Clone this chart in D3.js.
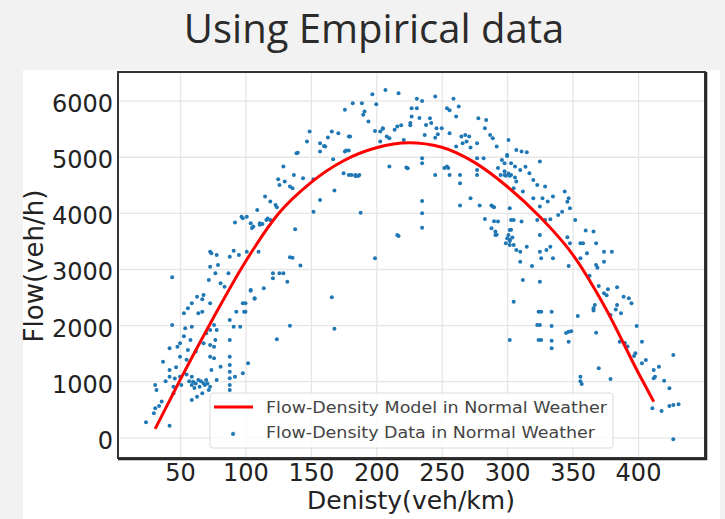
<!DOCTYPE html>
<html lang="en">

<head>
    <meta charset="UTF-8">
    <script src="https://d3js.org/d3.v7.min.js"></script>
    <style>
        body {
            margin: 0;
            background: #f2f2f2;
        }
    </style>
    <title>Using Empirical data</title>
</head>

<body>
    <div class="canvas"></div>
    <script>
        // model curve
        const modelDensity = [31, 50, 75, 100, 125, 150, 175, 200, 225, 250, 275, 300, 325, 350, 375, 400, 412]
        const modelFlow = [150, 1020, 2110, 3130, 3980, 4540, 4930, 5160, 5250, 5170, 4900, 4470, 3930, 3260, 2310, 1160, 635]

        // empirical points [density, flow]
        const empirical = [
            [44, 2853], [24, 267], [30, 428], [31, 517], [42, 207], [32, 843], [31, 932], [37, 1348], [42, 1200], [42, 1080],
            [45, 902], [45, 785], [50, 1080], [51, 932], [42, 1587], [48, 1615], [50, 1676], [50, 1437], [44, 2002], [53, 2211],
            [54, 1943], [56, 2300], [59, 2389], [63, 2507], [67, 2461], [68, 2537], [64, 2211], [67, 2239], [58, 1735], [56, 1557],
            [59, 1972], [59, 1080], [59, 932], [60, 991], [64, 1022], [65, 902], [68, 963], [70, 1022], [73, 902], [72, 843],
            [67, 785], [63, 724], [59, 665], [68, 1676], [70, 1854], [73, 1913], [76, 2002], [78, 1913], [77, 1735], [73, 1646],
            [76, 1615], [73, 1437], [76, 1408], [81, 1259], [74, 1200], [78, 1022], [73, 2389], [72, 2805], [73, 3042], [77, 2924],
            [79, 3072], [81, 2746], [84, 2685], [78, 3250], [73, 3309], [88, 3220], [95, 3250], [87, 2924], [100, 2389], [100, 2239],
            [93, 2239], [88, 2091], [91, 1972], [96, 1972], [88, 1735], [88, 1437], [88, 1289], [88, 1170], [88, 1052], [88, 932],
            [88, 843], [92, 1080], [98, 1141], [102, 1319], [104, 2626], [107, 2478], [91, 71],
            [62, 960], [66, 1000], [69, 930], [71, 960], [61, 880], [57, 1000], [55, 1120], [47, 1250], [46, 1050], [39, 1000],
            [36, 640], [34, 560], [53, 1800], [62, 1530], [55, 1380],
            [147, 5271], [157, 5242], [161, 5181], [157, 5092], [139, 5064], [140, 5070], [176, 5092], [167, 4957], [129, 4825], [137, 4677],
            [144, 4618], [152, 4600], [125, 4600], [130, 4558], [126, 4499], [134, 4468], [136, 4440], [175, 4707], [179, 4677], [181, 4677],
            [210, 4825], [168, 4397], [157, 4231], [115, 4290], [119, 4201], [123, 4142], [124, 4100], [109, 4053], [101, 3933], [98, 3905],
            [104, 3816], [106, 3755], [105, 3730], [111, 3816], [116, 3874], [119, 3874], [152, 4022], [188, 4004], [138, 3709], [216, 3607],
            [101, 3309], [110, 3309], [134, 3209], [136, 3200], [142, 3060], [121, 2924], [126, 2924], [129, 2924], [121, 2835], [132, 2774],
            [114, 2657], [104, 2614], [107, 2470], [98, 2389], [99, 2239], [166, 2496], [199, 3192], [134, 1990], [168, 1936], [124, 1747],
            [149, 5449], [166, 5449], [171, 5420], [163, 5342], [160, 5194], [179, 5360], [177, 5110], [179, 5110], [184, 4659], [186, 4659],
            [203, 5449], [205, 5500], [223, 4807], [176, 5836], [92, 3827], [97, 3933], [111, 3790], [113, 3800], [117, 3900], [74, 3281],
            [91, 3327],
            [207, 6192], [217, 6133], [197, 6116], [245, 6073], [231, 6032], [235, 5996], [259, 6032], [263, 5895], [182, 5955], [189, 5955],
            [200, 5937], [191, 5805], [190, 5750], [227, 5866], [231, 5866], [254, 5866], [256, 5830], [227, 5716], [226, 5604], [226, 5560],
            [233, 5690], [261, 5716], [194, 5627], [241, 5688], [242, 5600], [238, 5568], [216, 5538], [219, 5560], [214, 5480], [205, 5509],
            [199, 5461], [246, 5509], [250, 5509], [256, 5420], [247, 5402], [237, 5390], [245, 5340], [208, 5360], [210, 5331], [221, 5301],
            [203, 5271], [180, 5360], [278, 5688], [284, 5657], [283, 5509], [287, 5390], [289, 5331], [268, 5390], [265, 5360], [271, 5360],
            [269, 5271], [266, 5240], [261, 5181], [272, 5164], [277, 5242], [292, 5181], [301, 5301], [307, 5122], [300, 5033], [296, 4944],
            [298, 4885], [303, 4885], [306, 4825], [298, 4677], [303, 4677], [307, 4558], [282, 4975], [277, 4766], [277, 4677], [277, 4975],
            [235, 4975], [235, 4885], [224, 4796], [245, 4677], [254, 4825], [255, 4800], [252, 4800], [256, 4677], [264, 4677], [264, 4529],
            [184, 4677], [187, 4677], [272, 4261], [264, 4130], [279, 4130], [288, 4130], [290, 4100], [302, 4083], [283, 3892], [290, 3850],
            [293, 3845], [305, 3874], [291, 3666], [292, 3610], [301, 3607], [302, 3520], [304, 3560], [303, 3700], [235, 4213], [235, 3994],
            [235, 3737], [217, 3589], [305, 3429], [307, 3340],
            [311, 5092], [315, 5080], [300, 5015], [325, 4914], [293, 4800], [298, 4740], [301, 4700], [310, 4766], [314, 4820], [317, 4707],
            [320, 4588], [323, 4499], [295, 4677], [299, 4660], [302, 4660], [306, 4630], [329, 4468], [305, 4440], [312, 4379], [320, 4261],
            [327, 4261], [331, 4201], [335, 4290], [344, 4379], [347, 4261], [346, 4200], [348, 4083], [342, 4022], [339, 3960], [333, 3887],
            [329, 3874], [323, 3874], [352, 3874], [325, 4112], [289, 4112], [303, 3874], [311, 3845], [288, 3726], [291, 3607], [302, 3696],
            [300, 3550], [302, 3500], [299, 3460], [302, 3429], [325, 3607], [315, 3398], [310, 3309], [333, 3398], [325, 3309], [330, 3340],
            [326, 3192], [335, 3192], [310, 3131], [319, 3054], [346, 3566], [348, 3459], [356, 3459], [358, 3459], [360, 3684], [366, 3666],
            [368, 3459], [361, 3281], [374, 3309], [380, 3309], [356, 3192], [368, 3072], [369, 3020], [374, 3131], [347, 3054], [363, 2881],
            [370, 2698], [374, 2568], [376, 2530], [377, 2639], [384, 2675], [389, 2507], [393, 2480], [395, 2389], [384, 2359], [367, 2359],
            [387, 2211], [379, 2181], [366, 2260], [312, 2805], [325, 2774], [305, 2418], [324, 2239], [326, 2239], [334, 2239], [354, 2163],
            [323, 2002], [325, 2002], [334, 1984], [399, 1984],
            [324, 1735], [326, 1735], [334, 1722], [334, 1587], [302, 1735], [345, 1860], [347, 1880], [349, 1890], [347, 1705], [368, 1865],
            [366, 2300], [383, 2280], [403, 1705], [386, 1705], [398, 1498], [397, 1450], [406, 1378], [403, 1320], [427, 1467], [416, 1259],
            [412, 1200], [412, 1052], [413, 1080], [420, 1009], [424, 874], [411, 517], [418, 469], [424, 560], [427, 576], [431, 590],
            [427, -36], [356, 1080], [356, 1000], [357, 950], [370, 1230], [379, 1039], [392, 1620], [390, 1680]
        ]

        const xTicks = [50, 100, 150, 200, 250, 300, 350, 400]
        const yTicks = [0, 1000, 2000, 3000, 4000, 5000, 6000]
        const legendLabels = ['Flow-Density Model in Normal Weather', 'Flow-Density Data in Normal Weather']

        const areaWidth = 725
        const areaHeight = 519
        const svg = d3.select('.canvas')
            .append('svg')
            .attr('width', areaWidth)
            .attr('height', areaHeight)
            .style('display', 'block')

        // white picture panel
        svg.append('rect')
            .attr('x', 23).attr('y', 70)
            .attr('width', 697).attr('height', 449)
            .attr('fill', '#fff')

        svg.append('text')
            .attr('x', 374).attr('y', 43)
            .attr('text-anchor', 'middle')
            .attr('fill', '#2b2b2b')
            .style('font-family', 'Open Sans, Noto Sans, sans-serif')
            .style('font-size', '40px')
            .text('Using Empirical data')

        const [pl, pr, pt, pb] = [118, 705, 72, 458]
        const x = d3.scaleLinear().domain([2.6, 451.2]).range([pl, pr])
        const y = d3.scaleLinear().domain([-369, 6511]).range([pb, pt])

        const font = 'DejaVu Sans, sans-serif'

        // grid
        svg.append('g')
            .attr('transform', `translate(0,${pb})`)
            .call(d3.axisBottom(x).tickValues(xTicks).tickSize(-(pb - pt)).tickFormat(''))
            .call(g => g.select('.domain').remove())
            .selectAll('line').attr('stroke', '#e6e6e6').attr('stroke-width', 1.3)
        svg.append('g')
            .attr('transform', `translate(${pl},0)`)
            .call(d3.axisLeft(y).tickValues(yTicks).tickSize(-(pr - pl)).tickFormat(''))
            .call(g => g.select('.domain').remove())
            .selectAll('line').attr('stroke', '#e6e6e6').attr('stroke-width', 1.3)

        // tick labels
        const xAxisG = svg.append('g')
            .attr('transform', `translate(0,${pb})`)
            .call(d3.axisBottom(x).tickValues(xTicks).tickSize(0).tickPadding(6).tickFormat(d3.format('d')))
        const yAxisG = svg.append('g')
            .attr('transform', `translate(${pl},0)`)
            .call(d3.axisLeft(y).tickValues(yTicks).tickSize(0).tickPadding(5).tickFormat(d3.format('d')))
        xAxisG.select('.domain').remove()
        yAxisG.select('.domain').remove()
        svg.selectAll('.tick text')
            .attr('fill', '#222')
            .style('font-family', font)
            .style('font-size', '24px')
        yAxisG.selectAll('text').attr('dy', '11px')

        // points
        svg.append('g').selectAll('circle')
            .data(empirical)
            .enter()
            .append('circle')
            .attr('cx', d => x(d[0]))
            .attr('cy', d => y(d[1]))
            .attr('r', 2)
            .attr('fill', '#1f77b4')

        // model
        const line = d3.line()
            .x(d => x(d[0]))
            .y(d => y(d[1]))
            .curve(d3.curveMonotoneX)
        svg.append('path')
            .attr('fill', 'none')
            .attr('stroke', '#ff0000')
            .attr('stroke-width', 3)
            .attr('d', line(modelDensity.map((k, i) => [k, modelFlow[i]])))

        // frame
        svg.append('rect')
            .attr('x', pl).attr('y', pt)
            .attr('width', pr - pl).attr('height', pb - pt)
            .attr('fill', 'none')
            .attr('stroke', '#333')
            .attr('stroke-width', 2)
        svg.append('path')
            .attr('d', `M${pl},${pb + 1.5}H${pr + 1.5}V${pt}`)
            .attr('fill', 'none')
            .attr('stroke', '#222')
            .attr('stroke-width', 1.5)

        // legend
        const legend = svg.append('g')
        legend.append('rect')
            .attr('x', 210).attr('y', 393)
            .attr('width', 403).attr('height', 55)
            .attr('rx', 3)
            .attr('fill', '#fff').attr('fill-opacity', 0.8)
            .attr('stroke', '#dcdcdc')
        legend.append('line')
            .attr('x1', 214).attr('x2', 253)
            .attr('y1', 407).attr('y2', 407)
            .attr('stroke', '#ff0000').attr('stroke-width', 3)
        legend.append('circle')
            .attr('cx', 233).attr('cy', 434)
            .attr('r', 2).attr('fill', '#1f77b4')
        legend.selectAll('text.lab')
            .data(legendLabels)
            .enter()
            .append('text')
            .attr('class', 'lab')
            .attr('x', 266)
            .attr('y', (d, i) => 413 + i * 25)
            .attr('textLength', (d, i) => i === 0 ? 341 : 329)
            .attr('lengthAdjust', 'spacingAndGlyphs')
            .attr('fill', '#444')
            .style('font-family', font)
            .style('font-size', '16px')
            .text(d => d)

        // axis titles
        svg.append('text')
            .attr('x', 411).attr('y', 509)
            .attr('text-anchor', 'middle')
            .attr('fill', '#222')
            .style('font-family', font)
            .style('font-size', '25px')
            .text('Denisty(veh/km)')
        svg.append('text')
            .attr('transform', 'translate(43,266) rotate(-90)')
            .attr('text-anchor', 'middle')
            .attr('fill', '#222')
            .style('font-family', font)
            .style('font-size', '26px')
            .text('Flow(veh/h)')
    </script>

</body>

</html>
